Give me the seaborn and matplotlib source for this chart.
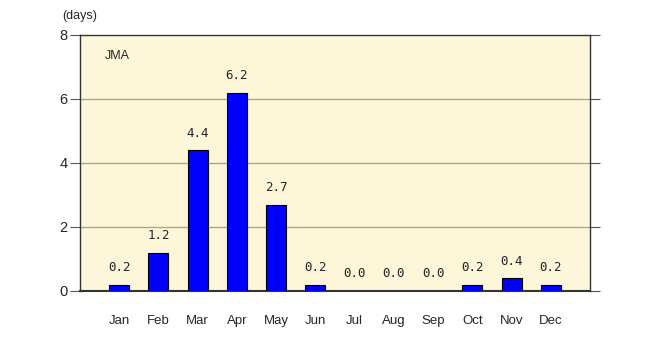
import matplotlib
matplotlib.use("Agg")
import matplotlib.pyplot as plt
import seaborn as sns
import pandas as pd

months = ["Jan", "Feb", "Mar", "Apr", "May", "Jun", "Jul", "Aug", "Sep", "Oct", "Nov", "Dec"]
days = [0.2, 1.2, 4.4, 6.2, 2.7, 0.2, 0.0, 0.0, 0.0, 0.2, 0.4, 0.2]
yticks = [0, 2, 4, 6, 8]

sns.set_theme(style="white")
plt.rcParams["font.family"] = ["Liberation Sans", "DejaVu Sans"]

df = pd.DataFrame({"month": months, "days": days})

fig = plt.figure(figsize=(6.7, 3.43), dpi=100)
ax = fig.add_axes([80 / 670, 52 / 343, 510 / 670, 256 / 343])
ax.set_facecolor("#fdf6d8")

sns.barplot(data=df, x="month", y="days", color="#0000ff", width=0.51,
            edgecolor="black", linewidth=0.8, saturation=1, ax=ax, zorder=3)

ax.set_xlim(-1, 12)
ax.set_ylim(0, 8)
ax.set_yticks(yticks)
ax.set_yticklabels([str(t) for t in yticks], fontsize=10.5)
for t in yticks[1:-1]:
    ax.axhline(t, color="#a8a088", linewidth=0.9, zorder=1)

ax.tick_params(axis="y", which="both", direction="out", length=7, width=0.8,
               color="#555555", left=True, right=True, pad=2)
ax.tick_params(axis="x", length=0, pad=17, labelsize=9.5)
ax.set_xlabel("")
ax.set_ylabel("")

for s in ["left", "right", "top"]:
    ax.spines[s].set_color("#333333")
    ax.spines[s].set_linewidth(1.0)
ax.spines["bottom"].set_color("#333333")
ax.spines["bottom"].set_linewidth(1.5)

for i, v in enumerate(days):
    ax.text(i, v + 0.33, f"{v:.1f}", ha="center", va="bottom",
            fontsize=9, family="DejaVu Sans Mono", color="#222222", zorder=4)

fig.text(62 / 670, 1 - 16 / 343, "(days)", ha="left", va="center", fontsize=9)
ax.text(105 / 670, 1 - 56 / 343, "JMA", ha="left", va="center", fontsize=9,
        transform=fig.transFigure)

fig.savefig("out.png", dpi=100)
